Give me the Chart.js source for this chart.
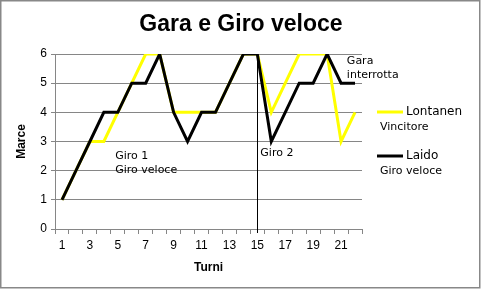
<!DOCTYPE html>
<html>
<head>
<meta charset="utf-8">
<script src="https://cdn.jsdelivr.net/npm/chart.js@4/dist/chart.umd.min.js"></script>
<style>
  body { margin: 0; background: #fff; }
  #wrap { position: relative; width: 481px; height: 289px; }
</style>
</head>
<body>
<div id="wrap"><canvas id="chart" width="481" height="289"></canvas></div>
<script>
// chart data
const turni = [1, 2, 3, 4, 5, 6, 7, 8, 9, 10, 11, 12, 13, 14, 15, 16, 17, 18, 19, 20, 21, 22];
const lontanen = [1, 2, 3, 3, 4, 5, 6, 6, 4, 4, 4, 4, 5, 6, 6, 4, 5, 6, 6, 6, 3, 4];
const laido = [1, 2, 3, 4, 4, 5, 5, 6, 4, 3, 4, 4, 5, 6, 6, 3, 4, 5, 5, 6, 5, 5];
const yTicks = [0, 1, 2, 3, 4, 5, 6];

// notes drawn on the plot: [category, value, lines]
const notes = [
  [4.6, 2.5, ["Giro 1", "Giro veloce"]],
  [15, 2.6, ["Giro 2"]],
  [21.2, 5.75, ["Gara", "interrotta"]],
];
const markerTurn = 15;
const chartTitle = "Gara e Giro veloce";

const legendItems = [
  { name: "Lontanen", note: "Vincitore", color: "#ffff00" },
  { name: "Laido", note: "Giro veloce", color: "#000000" },
];

// Extra drawing: border, title, vertical marker, notes, legend
const extras = {
  id: "extras",
  beforeDraw(chart) {
    const ctx = chart.ctx;
    ctx.save();
    ctx.fillStyle = "#fff";
    ctx.fillRect(0, 0, chart.width, chart.height);
    ctx.strokeStyle = "#888";
    ctx.lineWidth = 1.5;
    ctx.strokeRect(0.75, 0.75, 479, 287);
    ctx.fillStyle = "#000";
    ctx.font = "bold 23px 'Liberation Sans', Arial";
    ctx.textAlign = "center";
    ctx.textBaseline = "middle";
    ctx.fillText(chartTitle, 241, 25);
    ctx.restore();
  },
  afterDatasetsDraw(chart) {
    const ctx = chart.ctx;
    const x = chart.scales.x;
    const y = chart.scales.y;
    ctx.save();
    // vertical line at turn 15
    const vx = Math.round(x.getPixelForValue(markerTurn - 1)) + 0.5;
    ctx.strokeStyle = "#000";
    ctx.lineWidth = 1;
    ctx.beginPath();
    ctx.moveTo(vx, y.getPixelForValue(6));
    ctx.lineTo(vx, y.getPixelForValue(0) + 4);
    ctx.stroke();

    ctx.fillStyle = "#000";
    ctx.font = "11px 'DejaVu Sans'";
    ctx.textBaseline = "middle";
    ctx.textAlign = "left";
    notes.forEach(([cx, cy, lines]) => {
      const px = x.getPixelForValue(cx - 1) + 3;
      const py = y.getPixelForValue(cy);
      lines.forEach((t, i) => ctx.fillText(t, px, py + i * 14));
    });

    // legend on the right
    const lx = 377;
    legendItems.forEach((it, i) => {
      const ly = 112 + i * 44;
      ctx.strokeStyle = it.color;
      ctx.lineWidth = 3;
      ctx.beginPath();
      ctx.moveTo(lx, ly);
      ctx.lineTo(lx + 26, ly);
      ctx.stroke();
      ctx.fillStyle = "#000";
      ctx.font = "12px 'DejaVu Sans'";
      ctx.fillText(it.name, lx + 29, ly);
      ctx.font = "11px 'DejaVu Sans'";
      ctx.fillText(it.note, lx + 3, ly + 15);
    });
    ctx.restore();
  },
};

new Chart(document.getElementById("chart"), {
  type: "line",
  data: {
    labels: turni,
    datasets: [
      {
        label: "Laido",
        data: laido,
        borderColor: "#000000",
        borderWidth: 3,
        pointRadius: 0,
        tension: 0,
      },
      {
        label: "Lontanen",
        data: lontanen,
        borderColor: "#ffff00",
        borderWidth: 3,
        pointRadius: 0,
        tension: 0,
      },
    ],
  },
  options: {
    responsive: false,
    animation: false,
    layout: { padding: { left: 0, right: 119, top: 54, bottom: 0 } },
    plugins: {
      legend: { display: false },
      tooltip: { enabled: false },
      title: { display: false },
    },
    scales: {
      x: {
        type: "category",
        offset: true,
        border: { color: "#868686", width: 1 },
        grid: { offset: true, drawOnChartArea: false, drawTicks: true, tickLength: 5, color: "#868686" },
        ticks: {
          autoSkip: false,
          maxRotation: 0,
          color: "#000",
          font: { family: "'Liberation Sans', Arial", size: 12 },
          padding: 4,
          callback: function (v, i) {
            return i % 2 === 0 ? turni[i] : "";
          },
        },
        title: {
          display: true,
          text: "Turni",
          color: "#000",
          font: { family: "'Liberation Sans', Arial", size: 12, weight: "bold" },
          padding: { top: 5, bottom: 14 },
        },
        afterFit(scale) { scale.height = 60; },
      },
      y: {
        min: 0,
        max: 6,
        border: { color: "#868686", width: 1 },
        grid: { color: "#868686", drawTicks: true, tickLength: 4 },
        afterBuildTicks(scale) { scale.ticks = yTicks.map(v => ({ value: v })); },
        ticks: {
          color: "#000",
          font: { family: "'Liberation Sans', Arial", size: 12 },
          padding: 4,
        },
        title: {
          display: true,
          text: "Marce",
          color: "#000",
          font: { family: "'Liberation Sans', Arial", size: 12, weight: "bold" },
          padding: { top: 14, bottom: 0 },
        },
        afterFit(scale) { scale.width = 55; },
      },
    },
  },
  plugins: [extras],
});
</script>
</body>
</html>
